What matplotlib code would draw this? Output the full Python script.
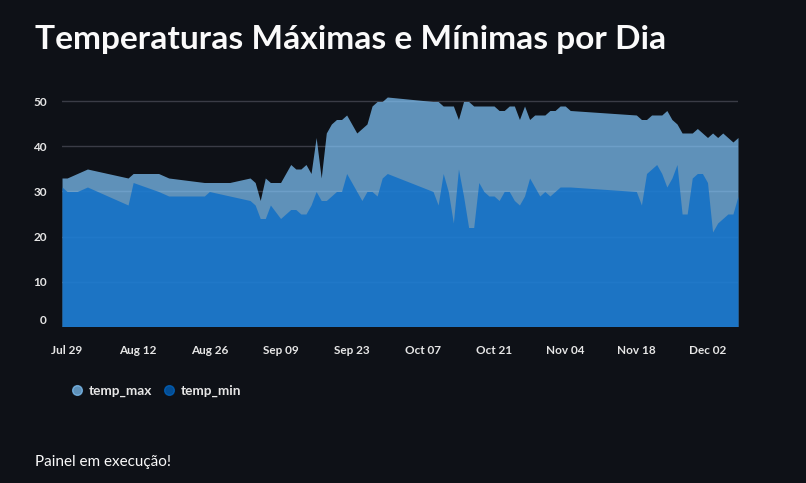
import pandas as pd
import matplotlib
matplotlib.use("Agg")
import matplotlib.pyplot as plt
import matplotlib.dates as mdates
from matplotlib.lines import Line2D

plt.rcParams['font.family'] = ['Lato', 'DejaVu Sans']

# data (days counted from the first reading)
start_date = "2024-07-28"
day_offsets = [0, 1, 3, 5, 13, 14, 19, 21, 28, 29, 33, 37, 38, 39, 40, 41, 43,
               45, 46, 47, 48, 49, 50, 51, 52, 53, 54, 55, 56, 57, 58, 59, 60, 61, 62, 63, 64,
               73, 74, 75, 76, 77, 78, 79, 80, 81, 82, 83, 84, 85, 86, 87, 88, 89, 90,
               91, 92, 93, 94, 95, 96, 97, 98, 99, 100,
               113, 114, 115, 116, 117, 118, 119, 120, 121, 122, 123, 124, 125, 126,
               127, 128, 129, 130, 131, 132, 133]
temp_max = [33, 33, 34, 35, 33, 34, 34, 33, 32, 32, 32, 33, 32, 28, 33, 32, 32,
            36, 35, 35, 36, 34, 42, 33, 43, 45, 46, 46, 47, 45, 43, 44, 45, 49, 50, 50, 51,
            50, 50, 49, 49, 49, 46, 50, 50, 49, 49, 49, 49, 49, 48, 48, 49, 49, 46,
            49, 46, 47, 47, 47, 48, 48, 49, 49, 48,
            47, 46, 46, 47, 47, 47, 48, 46, 45, 43, 43, 43, 44, 43,
            42, 43, 42, 43, 42, 41, 42]
temp_min = [31, 30, 30, 31, 27, 32, 30, 29, 29, 30, 29, 28, 27, 24, 24, 27, 24,
            26, 26, 25, 25, 27, 30, 28, 28, 29, 30, 30, 34, 32, 30, 28, 30, 30, 29, 33, 34,
            30, 27, 34, 30, 23, 35, 29, 22, 22, 32, 30, 29, 29, 28, 30, 30, 28, 27,
            29, 33, 31, 29, 30, 29, 30, 31, 31, 31,
            30, 27, 34, 35, 36, 34, 31, 33, 36, 25, 25, 33, 34, 34,
            32, 21, 23, 24, 25, 25, 29]
y_ticks = [0, 10, 20, 30, 40, 50]

dates = pd.to_datetime(start_date) + pd.to_timedelta(day_offsets, unit="D")

bg = '#0e1117'
c_max = '#83c9ff'
c_min = '#0068c9'

fig = plt.figure(figsize=(8.06, 4.83), dpi=100, facecolor=bg)
ax = fig.add_axes([62/806, 1 - 326.5/483, 676/806, 234/483])
ax.set_facecolor(bg)

ax.fill_between(dates, 0, temp_max, color=c_max, alpha=0.7, linewidth=0, zorder=2)
ax.fill_between(dates, 0, temp_min, color=c_min, alpha=0.7, linewidth=0, zorder=3)

ax.set_xlim(dates[0], dates[-1])
ax.set_ylim(0, 52)
ax.set_yticks(y_ticks)
ax.grid(axis='y', color='#3a3c46', linewidth=1, zorder=0)
ax.set_axisbelow(True)
for s in ax.spines.values():
    s.set_visible(False)

# fortnightly ticks, as in the original
ticks = pd.date_range("2024-07-29", dates[-1], freq="14D")
ax.set_xticks(ticks)
ax.xaxis.set_major_formatter(mdates.DateFormatter('%b %d'))
ax.tick_params(axis='both', length=0, colors='#e6e6e6', labelsize=8.5)
ax.tick_params(axis='x', pad=13)
ax.tick_params(axis='y', pad=11)
for lab in ax.get_xticklabels() + ax.get_yticklabels():
    lab.set_fontweight('bold')
ax.get_yticklabels()[0].set_va('bottom')

fig.text(35/806, 1 - 49.5/483, "Temperaturas Máximas e Mínimas por Dia",
         color='#fafafa', fontsize=24.1, fontweight='bold', va='baseline', ha='left')

handles = [Line2D([], [], marker='o', linestyle='', markersize=7, color=c_max, alpha=0.7),
           Line2D([], [], marker='o', linestyle='', markersize=7, color=c_min, alpha=0.7)]
leg = fig.legend(handles, ['temp_max', 'temp_min'], loc='center left',
                 bbox_to_anchor=(70/806, 1 - 391/483), ncol=2, frameon=False,
                 handlelength=1.0, handletextpad=0.35, columnspacing=0.8,
                 borderpad=0, borderaxespad=0, prop={'size': 9.8, 'weight': 'bold'})
for t in leg.get_texts():
    t.set_color('#e6e6e6')

fig.text(35/806, 1 - 462/483, "Painel em execução!", color='#fafafa',
         fontsize=11, va='center', ha='left')

fig.savefig('out.png', dpi=100, facecolor=bg)
